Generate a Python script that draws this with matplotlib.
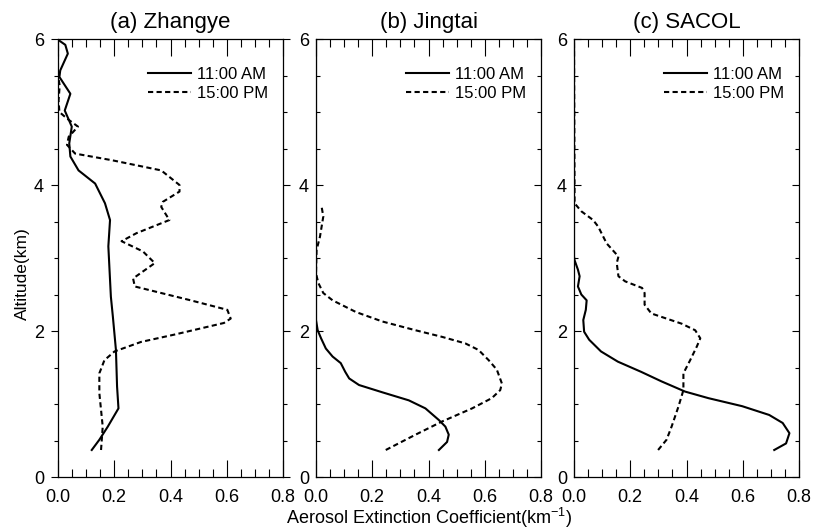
import matplotlib
matplotlib.use("Agg")
import matplotlib.pyplot as plt
from matplotlib.ticker import MultipleLocator

plt.rcParams["font.family"] = ["Liberation Sans", "DejaVu Sans"]
plt.rcParams["mathtext.default"] = "regular"

# --- data (extinction km^-1 vs altitude km) ---
titles = ["(a) Zhangye", "(b) Jingtai", "(c) SACOL"]
legend_labels = ["11:00 AM", "15:00 PM"]

zhangye_am_ext = [0.120, 0.147, 0.177, 0.215, 0.210, 0.206, 0.195, 0.188, 0.179, 0.185,
                  0.167, 0.132, 0.073, 0.044, 0.040, 0.049, 0.024, 0.044, 0.005, 0.008,
                  0.035, 0.026, 0.0]
zhangye_am_alt = [0.37, 0.51, 0.69, 0.94, 1.24, 1.74, 2.20, 2.47, 3.16, 3.52,
                  3.75, 4.02, 4.20, 4.39, 4.57, 4.80, 5.02, 5.25, 5.48, 5.57,
                  5.80, 5.92, 5.99]
zhangye_pm_ext = [0.153, 0.159, 0.147, 0.147, 0.165, 0.201, 0.295, 0.413, 0.590, 0.614,
                  0.602, 0.472, 0.273, 0.267, 0.344, 0.302, 0.226, 0.279, 0.396, 0.367,
                  0.373, 0.432, 0.432, 0.367, 0.191, 0.061, 0.032, 0.038, 0.071, 0.032,
                  0.005, 0.002, 0.006, 0.0, 0.0]
zhangye_pm_alt = [0.37, 0.69, 1.15, 1.42, 1.60, 1.72, 1.85, 1.95, 2.11, 2.17,
                  2.29, 2.42, 2.61, 2.72, 2.93, 3.09, 3.23, 3.34, 3.52, 3.70,
                  3.77, 3.91, 4.00, 4.20, 4.34, 4.43, 4.55, 4.66, 4.80, 4.91,
                  5.00, 5.16, 5.36, 5.50, 6.0]

jingtai_am_ext = [0.437, 0.466, 0.472, 0.460, 0.437, 0.389, 0.330, 0.236, 0.153, 0.118,
                  0.104, 0.088, 0.059, 0.035, 0.018, 0.006, 0.0, 0.0]
jingtai_am_alt = [0.37, 0.48, 0.58, 0.69, 0.78, 0.94, 1.05, 1.16, 1.26, 1.35,
                  1.44, 1.56, 1.65, 1.76, 1.90, 2.01, 2.15, 6.0]
jingtai_pm_ext = [0.248, 0.354, 0.448, 0.555, 0.625, 0.655, 0.661, 0.643, 0.614, 0.578,
                  0.531, 0.448, 0.354, 0.236, 0.142, 0.059, 0.026, 0.008, 0.0, 0.002,
                  0.014, 0.026, 0.020]
jingtai_pm_alt = [0.37, 0.58, 0.76, 0.94, 1.08, 1.19, 1.28, 1.47, 1.60, 1.74,
                  1.83, 1.92, 2.01, 2.13, 2.26, 2.42, 2.52, 2.66, 2.79, 3.11,
                  3.29, 3.57, 3.70]

sacol_am_ext = [0.712, 0.754, 0.766, 0.742, 0.694, 0.598, 0.478, 0.395, 0.311, 0.239,
                0.156, 0.096, 0.054, 0.036, 0.033, 0.042, 0.045, 0.026, 0.014, 0.020,
                0.014, 0.002, 0.0, 0.0]
sacol_am_alt = [0.37, 0.46, 0.60, 0.74, 0.85, 0.97, 1.08, 1.17, 1.31, 1.44,
                1.58, 1.72, 1.88, 1.99, 2.15, 2.29, 2.42, 2.50, 2.61, 2.75,
                2.84, 2.97, 3.02, 6.0]
sacol_pm_ext = [0.299, 0.329, 0.347, 0.371, 0.389, 0.389, 0.413, 0.437, 0.449, 0.431,
                0.383, 0.275, 0.251, 0.251, 0.242, 0.182, 0.158, 0.152, 0.158, 0.116,
                0.086, 0.068, 0.026, 0.002, 0.0]
sacol_pm_alt = [0.37, 0.51, 0.69, 0.96, 1.19, 1.42, 1.60, 1.79, 1.90, 2.01,
                2.10, 2.24, 2.36, 2.52, 2.59, 2.68, 2.75, 2.93, 3.02, 3.20,
                3.43, 3.52, 3.64, 3.75, 6.0]

panels = [
    (zhangye_am_ext, zhangye_am_alt, zhangye_pm_ext, zhangye_pm_alt),
    (jingtai_am_ext, jingtai_am_alt, jingtai_pm_ext, jingtai_pm_alt),
    (sacol_am_ext, sacol_am_alt, sacol_pm_ext, sacol_pm_alt),
]

fig = plt.figure(figsize=(8.14, 5.29), dpi=100)
lefts = [58, 316, 574]
W, H = 814.0, 529.0

for i, (am_x, am_y, pm_x, pm_y) in enumerate(panels):
    ax = fig.add_axes([lefts[i] / W, 52 / H, 225 / W, 438 / H])
    ax.plot(am_x, am_y, color="black", lw=1.5, label=legend_labels[0])
    ax.plot(pm_x, pm_y, color="black", lw=1.5, linestyle=(0, (2.5, 1.6)),
            label=legend_labels[1])
    ax.set_xlim(0, 0.8)
    ax.set_ylim(0, 6)
    ax.xaxis.set_major_locator(MultipleLocator(0.2))
    ax.xaxis.set_minor_locator(MultipleLocator(0.05))
    ax.yaxis.set_major_locator(MultipleLocator(2))
    ax.yaxis.set_minor_locator(MultipleLocator(0.5))
    ax.xaxis.set_major_formatter(plt.FormatStrFormatter("%.1f"))
    ax.tick_params(axis="x", which="both", direction="in", top=True, bottom=True,
                   labelsize=13, pad=9)
    ax.tick_params(axis="x", which="major", length=12.5, width=0.8)
    ax.tick_params(axis="x", which="minor", length=6, width=0.8)
    ax.tick_params(axis="y", which="both", direction="in", left=True, right=True,
                   labelsize=13, pad=5)
    ax.tick_params(axis="y", which="major", length=5, width=0.8)
    ax.tick_params(axis="y", which="minor", length=3, width=0.8)
    if i == 0:
        ax.tick_params(axis="y", which="both", direction="out")
    for sp in ax.spines.values():
        sp.set_linewidth(0.9)
    ax.set_title(titles[i], fontsize=16, pad=8)
    ax.legend(loc="upper right", frameon=False, fontsize=12, handlelength=2.6,
              handletextpad=0.35, labelspacing=0.25, borderaxespad=0.5,
              bbox_to_anchor=(1.0, 0.97))

fig.text(22 / W, 1 - 274 / H, "Altitude(km)", rotation=90, ha="center", va="center",
         fontsize=12.5)
fig.text(429 / W, 5 / H, "Aerosol Extinction Coefficient(km$^{-1}$)", ha="center",
         va="baseline", fontsize=13)

fig.savefig("out.png", dpi=100)
